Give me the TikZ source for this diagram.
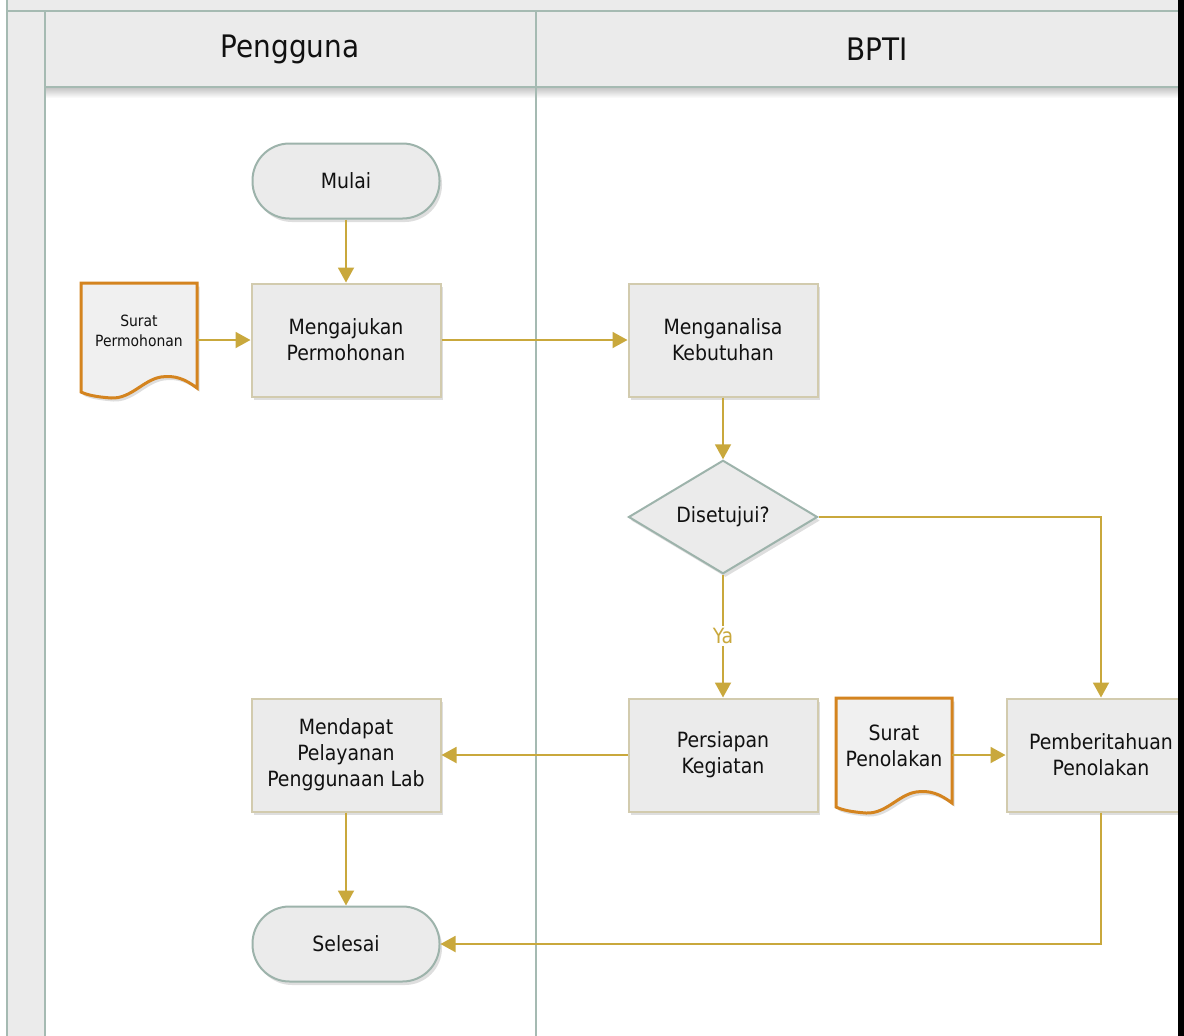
\documentclass[tikz,border=0pt]{standalone}
\usepackage{fontspec}
\setmainfont{DejaVu Sans Condensed}
\usetikzlibrary{arrows.meta,shadows,shapes.geometric}
\definecolor{lanefill}{HTML}{EBEBEB}
\definecolor{laneline}{HTML}{A5BAB2}
\definecolor{boxfill}{HTML}{EBEBEB}
\definecolor{boxline}{HTML}{D2CBAE}
\definecolor{termline}{HTML}{9DB3AB}
\definecolor{docline}{HTML}{D4841F}
\definecolor{docfill}{HTML}{F0F0F0}
\definecolor{arrowc}{HTML}{C9A83C}
\definecolor{txt}{HTML}{111111}
\newcommand\fsbox{\fontsize{21}{26}\selectfont}
\newcommand\fshead{\fontsize{31}{36}\selectfont}
\newcommand\fssmall{\fontsize{15.5}{20}\selectfont}
\tikzset{
  shd/.style={drop shadow={shadow xshift=2.5pt, shadow yshift=-3.5pt, opacity=0.13, fill=black}},
  proc/.style={rectangle, draw=boxline, line width=2pt, fill=boxfill, minimum width=189pt,
    minimum height=113pt, align=center, font=\fsbox, text=txt, shd},
  term/.style={rectangle, rounded corners=37pt, draw=termline, line width=2pt, fill=boxfill,
    minimum width=187pt, minimum height=75pt, align=center, font=\fsbox, text=txt, shd},
  decis/.style={diamond, draw=termline, line width=2pt, fill=boxfill, inner sep=0pt,
    minimum width=189pt, minimum height=113pt, align=center, font=\fsbox, text=txt, shd},
  docbox/.style={rectangle, draw=none, minimum width=116pt, minimum height=114pt, inner sep=0pt},
  docst/.style={draw=docline, line width=3pt, fill=docfill, line join=miter, shd},
  doctext/.style={align=center, text=txt},
  flow/.style={draw=arrowc, line width=1.9pt, -{Triangle[length=15pt,width=16pt]}},
  lane/.style={draw=laneline, line width=2pt},
  headtext/.style={font=\fshead, text=txt},
}
\newcommand\docpath[2]{%
  \begin{scope}[shift={(#1,#2)}]
    \filldraw[docst] (0,0) -- (116,0) -- (116,105)
      .. controls (104,96) and (94,92) .. (80,94)
      .. controls (62,97) and (50,116) .. (30,115)
      .. controls (16,114) and (6,112) .. (0,109) -- cycle;
  \end{scope}}
\begin{document}
\begin{tikzpicture}[x=1pt,y=-1pt]
\useasboundingbox (0,0) rectangle (1184,1036);
\begin{scope}
\clip (0,0) rectangle (1184,1036);
% lane backgrounds
\fill[white] (0,0) rectangle (1184,1036);
\fill[lanefill] (7,0) rectangle (45,1036);
\fill[lanefill] (7,0) rectangle (1184,11);
\fill[lanefill] (45,11) rectangle (1184,87);
\shade[top color=black!22, bottom color=white] (45,88) rectangle (1184,98);
\draw[lane] (7,0) -- (7,1036);
\draw[lane] (45,11) -- (45,1036);
\draw[lane] (7,11) -- (1184,11);
\draw[lane] (45,87) -- (1184,87);
\draw[lane] (536,11) -- (536,1036);
\node[headtext] (h1) at (290,49) {Pengguna};
\node[headtext] (h2) at (877,49) {BPTI};

% documents
\docpath{81}{283}
\docpath{836}{698}
\node[docbox] (sp) at (139,340) {};
\node[doctext, font=\fssmall] (spt) at (139,331) {Surat\\Permohonan};
\node[docbox] (spn) at (894,755) {};
\node[doctext, font=\fsbox] (spnt) at (894,746) {Surat\\Penolakan};

% nodes
\node[term] (mulai) at (346,181) {Mulai};
\node[proc] (mp) at (346,340) {Mengajukan\\Permohonan};
\node[proc] (ma) at (723,340) {Menganalisa\\Kebutuhan};
\node[decis] (dis) at (723,517) {Disetujui?};
\node[proc] (pk) at (723,755) {Persiapan\\Kegiatan};
\node[proc] (pp) at (1101,755) {Pemberitahuan\\Penolakan};
\node[proc] (mpl) at (346,755) {Mendapat\\Pelayanan\\Penggunaan Lab};
\node[term] (sel) at (346,944) {Selesai};

% connectors
\draw[flow] (mulai.south) -- (mp.north);
\draw[flow] (sp.east) -- (mp.west);
\draw[flow] (mp.east) -- (ma.west);
\draw[flow] (ma.south) -- (dis.north);
\draw[flow] (dis.south) -- node[fill=white, text=arrowc, font=\fsbox, inner sep=2pt, pos=0.5] (ya) {Ya} (pk.north);
\draw[flow] (dis.east) -| (pp.north);
\draw[flow] (spn.east) -- (pp.west);
\draw[flow] (pk.west) -- (mpl.east);
\draw[flow] (mpl.south) -- (sel.north);
\draw[flow] (pp.south) |- (sel.east);
\end{scope}
\fill[black] (1178,0) rectangle (1184,1036);
\end{tikzpicture}
\end{document}
